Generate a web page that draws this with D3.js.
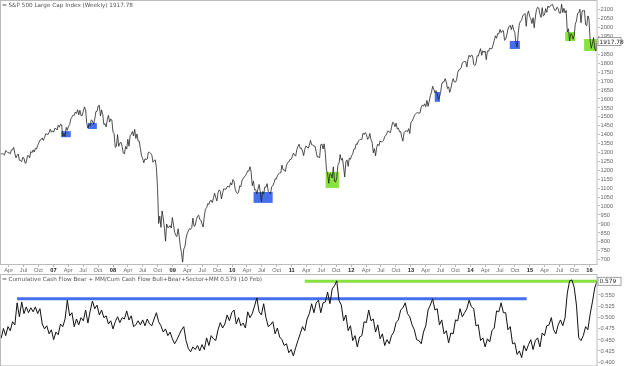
<!DOCTYPE html>
<html>
<head>
<meta charset="utf-8">
<script src="https://cdn.jsdelivr.net/npm/d3@7"></script>
<style>
  body { margin: 0; background: #fff; }
  svg { display: block; font-family: "DejaVu Sans", Verdana, sans-serif; will-change: transform; }
  .axis text { fill: #666; font-size: 5.7px; }
  .axis path, .axis line { stroke: #bbb; shape-rendering: crispEdges; }
  .yr { fill: #222 !important; font-weight: bold; }
</style>
</head>
<body>
<svg id="chart" width="640" height="366"></svg>
<script>
// weekly closes, first point Fri 17 Feb 2006, last point Fri 19 Feb 2016
const firstDate = new Date(2006, 1, 17);
const spx = [
  // 2006
  1289, 1289, 1287, 1282, 1307, 1302, 1295, 1295, 1289, 1311, 1311, 1325, 1291, 1267, 1280, 1288, 1253, 1251, 1245, 1270,
  1265, 1236, 1240, 1278, 1279, 1266, 1302, 1295, 1311, 1299, 1320, 1315, 1336, 1350, 1366, 1368, 1378, 1364, 1380, 1401,
  1400, 1396, 1409, 1427, 1410, 1418,
  // 2007
  1410, 1431, 1431, 1422, 1449, 1438, 1455, 1451, 1387, 1402, 1386, 1437, 1421, 1444, 1453, 1484, 1494, 1506, 1505, 1523,
  1515, 1536, 1507, 1533, 1503, 1503, 1530, 1552, 1534, 1459, 1433, 1453, 1445, 1479, 1474, 1454, 1484, 1525, 1527, 1557,
  1561, 1501, 1535, 1509, 1453, 1458, 1440, 1481, 1504, 1467, 1484, 1478,
  // 2008
  1411, 1401, 1325, 1331, 1396, 1331, 1349, 1353, 1331, 1294, 1288, 1330, 1316, 1370, 1332, 1390, 1398, 1414, 1389, 1426,
  1375, 1400, 1361, 1360, 1318, 1278, 1262, 1239, 1261, 1257, 1260, 1297, 1298, 1292, 1283, 1242, 1252, 1255, 1213, 1099,
  899, 940, 877, 969, 930, 873, 800, 896, 876, 879, 887, 873,
  // 2009
  932, 890, 850, 832, 826, 869, 827, 770, 735, 683, 756, 768, 816, 843, 857, 870, 866, 877, 929, 883,
  887, 919, 940, 946, 921, 918, 896, 879, 941, 979, 987, 1010, 1005, 1026, 1029, 1016, 1042, 1068, 1044, 1025,
  1071, 1087, 1080, 1036, 1069, 1093, 1091, 1091, 1106, 1106, 1102, 1127, 1115,
  // 2010
  1145, 1136, 1092, 1074, 1066, 1075, 1109, 1105, 1139, 1150, 1160, 1167, 1179, 1194, 1192, 1217, 1187, 1111, 1136, 1088,
  1089, 1065, 1092, 1117, 1076, 1022, 1078, 1065, 1103, 1102, 1122, 1079, 1071, 1065, 1105, 1110, 1126, 1149, 1147, 1166,
  1176, 1183, 1183, 1226, 1200, 1200, 1190, 1225, 1240, 1244, 1257, 1258,
  // 2011
  1272, 1293, 1283, 1276, 1311, 1329, 1343, 1320, 1321, 1304, 1279, 1314, 1332, 1329, 1320, 1338, 1364, 1340, 1338, 1333,
  1331, 1300, 1271, 1272, 1268, 1340, 1344, 1316, 1345, 1292, 1199, 1179, 1124, 1177, 1174, 1154, 1216, 1136, 1131, 1155,
  1225, 1238, 1285, 1253, 1264, 1216, 1159, 1244, 1255, 1219, 1265, 1258,
  // 2012
  1278, 1289, 1315, 1316, 1345, 1342, 1362, 1366, 1370, 1370, 1404, 1397, 1408, 1398, 1370, 1378, 1403, 1369, 1353, 1295,
  1318, 1278, 1325, 1343, 1335, 1362, 1355, 1357, 1363, 1386, 1391, 1405, 1418, 1411, 1407, 1438, 1466, 1460, 1441, 1461,
  1428, 1433, 1412, 1414, 1380, 1360, 1409, 1416, 1418, 1413, 1430, 1402,
  // 2013
  1466, 1472, 1486, 1503, 1513, 1518, 1520, 1516, 1518, 1551, 1561, 1556, 1569, 1553, 1588, 1555, 1582, 1614, 1634, 1667,
  1650, 1631, 1643, 1626, 1593, 1606, 1632, 1680, 1692, 1692, 1710, 1691, 1655, 1664, 1633, 1655, 1688, 1710, 1692, 1691,
  1703, 1745, 1759, 1762, 1771, 1798, 1805, 1806, 1805, 1775, 1818, 1841,
  // 2014
  1831, 1842, 1838, 1790, 1783, 1797, 1838, 1836, 1859, 1878, 1841, 1866, 1857, 1865, 1816, 1864, 1863, 1881, 1878, 1878,
  1900, 1924, 1950, 1936, 1963, 1961, 1985, 1968, 1978, 1978, 1925, 1931, 1955, 1988, 2003, 2008, 1985, 2011, 1982, 1968,
  1906, 1886, 1965, 2018, 2032, 2039, 2064, 2068, 2075, 2003, 2071, 2089,
  // 2015
  2058, 2045, 2019, 2051, 1995, 2055, 2097, 2110, 2105, 2071, 2053, 2108, 2061, 2067, 2102, 2081, 2117, 2108, 2116, 2123,
  2126, 2107, 2092, 2094, 2110, 2102, 2077, 2077, 2127, 2080, 2104, 2078, 2092, 1971, 1989, 1921, 1961, 1958, 1931, 1951,
  2015, 2033, 2075, 2079, 2099, 2023, 2089, 2090, 2092, 2012, 2006, 2061, 2044,
  // 2016
  1922, 1880, 1907, 1940, 1880, 1865, 1918
];

// Cumulative Cash Flow Bear + MM / Cum Cash Flow Bull+Bear+Sector+MM, every second week from the same start
const flow = [
  0.452, 0.474, 0.458, 0.478, 0.469, 0.489, 0.482, 0.531, 0.500, 0.533, 0.507, 0.522, 0.509, 0.520, 0.511, 0.522, 0.507, 0.518, 0.484, 0.473,
  0.480, 0.462, 0.471, 0.449, 0.466, 0.460, 0.484, 0.478, 0.495, 0.537, 0.502, 0.509, 0.478, 0.495, 0.482, 0.498, 0.491, 0.515, 0.486, 0.513,
  0.535, 0.518, 0.526, 0.504, 0.515, 0.498, 0.502, 0.484, 0.491, 0.473, 0.489, 0.500, 0.487, 0.498, 0.495, 0.513, 0.493, 0.502, 0.478, 0.482,
  0.491, 0.482, 0.493, 0.480, 0.495, 0.484, 0.480, 0.495, 0.509, 0.489, 0.480, 0.466, 0.473, 0.458, 0.466, 0.451, 0.440, 0.449, 0.460, 0.471,
  0.478, 0.447, 0.429, 0.422, 0.433, 0.427, 0.436, 0.424, 0.438, 0.427, 0.453, 0.436, 0.458, 0.451, 0.447, 0.471, 0.487, 0.475, 0.484, 0.504,
  0.491, 0.509, 0.515, 0.484, 0.498, 0.480, 0.486, 0.475, 0.511, 0.498, 0.507, 0.524, 0.542, 0.511, 0.504, 0.529, 0.498, 0.478, 0.482, 0.489,
  0.462, 0.475, 0.455, 0.449, 0.436, 0.440, 0.420, 0.427, 0.413, 0.431, 0.447, 0.462, 0.478, 0.469, 0.495, 0.507, 0.529, 0.509, 0.531, 0.537,
  0.509, 0.531, 0.533, 0.555, 0.529, 0.562, 0.569, 0.580, 0.536, 0.526, 0.491, 0.504, 0.469, 0.480, 0.447, 0.458, 0.433, 0.455, 0.458, 0.489,
  0.487, 0.515, 0.491, 0.495, 0.466, 0.482, 0.451, 0.462, 0.436, 0.449, 0.440, 0.458, 0.466, 0.487, 0.493, 0.515, 0.520, 0.531, 0.507, 0.500,
  0.482, 0.471, 0.449, 0.447, 0.440, 0.466, 0.480, 0.515, 0.526, 0.540, 0.515, 0.518, 0.482, 0.493, 0.462, 0.469, 0.442, 0.464, 0.462, 0.493,
  0.491, 0.518, 0.500, 0.509, 0.518, 0.537, 0.522, 0.518, 0.480, 0.482, 0.447, 0.453, 0.433, 0.451, 0.444, 0.469, 0.475, 0.513, 0.511, 0.531,
  0.509, 0.509, 0.471, 0.478, 0.440, 0.442, 0.416, 0.424, 0.409, 0.436, 0.424, 0.438, 0.449, 0.427, 0.447, 0.453, 0.433, 0.464, 0.458, 0.480,
  0.482, 0.498, 0.471, 0.462, 0.482, 0.493, 0.480, 0.498, 0.553, 0.580, 0.582, 0.566, 0.526, 0.453, 0.447, 0.458, 0.478, 0.471, 0.506, 0.533,
  0.564, 0.579
];

// highlighted zones on the price panel: [start, end, low, high]
const blueZones = [
  ['2007-02-20', '2007-04-20', 1382, 1416],
  ['2007-08-03', '2007-09-27', 1428, 1462],
  ['2010-05-15', '2010-09-09', 1014, 1075],
  ['2013-05-30', '2013-07-01', 1580, 1635],
  ['2014-09-02', '2014-11-03', 1876, 1921]
];
const greenZones = [
  ['2011-07-31', '2011-10-20', 1098, 1187],
  ['2015-08-08', '2015-10-08', 1921, 1971],
  ['2015-12-02', '2016-02-19', 1865, 1932]
];

// reference levels on the flow panel: [start, end, level]
const blueLevel = ['2006-05-25', '2014-12-15', 0.540];
const greenLevel = ['2011-03-25', '2016-02-19', 0.579];

const priceTicks = d3.range(700, 2101, 50).filter(d => d !== 1900);
const flowTicks = d3.range(0.4, 0.5501, 0.025);
const lastPrice = 1917.78;
const lastFlow = 0.579;

const plotRight = 597;
const blue = '#4470f0';
const green = '#86e23c';

const spxDates = spx.map((d, i) => d3.timeDay.offset(firstDate, 7 * i));
const flowDates = flow.map((d, i) => d3.timeDay.offset(firstDate, 14 * i));
const parse = d3.timeParse('%Y-%m-%d');

const svg = d3.select('#chart');

const x = d3.scaleTime()
  .domain([new Date(2006, 1, 10), new Date(2016, 1, 19)])
  .range([0, plotRight]);

const yTop = d3.scaleLinear().domain([700, 2100]).range([259, 9]);
const yBot = d3.scaleLinear().domain([0.4, 0.55]).range([361.7, 294.3]);

// panel frames + clips
const panels = [
  { id: 'top', y0: 0.5, y1: 264.5 },
  { id: 'bot', y0: 274.5, y1: 366 }
];
const defs = svg.append('defs');
panels.forEach(p => {
  defs.append('clipPath').attr('id', 'clip-' + p.id)
    .append('rect')
    .attr('x', 0).attr('y', p.y0)
    .attr('width', plotRight).attr('height', p.y1 - p.y0);
});

// price panel
const pricePanel = svg.append('g').attr('clip-path', 'url(#clip-top)');

const zone = (sel, data, color) => sel.selectAll(null)
  .data(data)
  .enter()
  .append('rect')
  .attr('x', d => x(parse(d[0])))
  .attr('width', d => x(parse(d[1])) - x(parse(d[0])))
  .attr('y', d => yTop(d[3]))
  .attr('height', d => yTop(d[2]) - yTop(d[3]))
  .attr('fill', color);

zone(pricePanel, blueZones, blue);
zone(pricePanel, greenZones, green);

const priceLine = d3.line()
  .x((d, i) => x(spxDates[i]))
  .y(d => yTop(d));

pricePanel.append('path')
  .datum(spx)
  .attr('d', priceLine)
  .attr('fill', 'none')
  .attr('stroke', '#222')
  .attr('stroke-width', 0.8);

// flow panel
const flowPanel = svg.append('g').attr('clip-path', 'url(#clip-bot)');

[[blueLevel, blue], [greenLevel, green]].forEach(([lv, color]) => {
  flowPanel.append('line')
    .attr('x1', x(parse(lv[0])))
    .attr('x2', x(parse(lv[1])))
    .attr('y1', yBot(lv[2]))
    .attr('y2', yBot(lv[2]))
    .attr('stroke', color)
    .attr('stroke-width', 3);
});

const flowLine = d3.line()
  .x((d, i) => x(flowDates[i]))
  .y(d => yBot(d));

flowPanel.append('path')
  .datum(flow)
  .attr('d', flowLine)
  .attr('fill', 'none')
  .attr('stroke', '#111')
  .attr('stroke-width', 1);

// frames
panels.forEach(p => {
  svg.append('rect')
    .attr('x', 0.5).attr('y', p.y0)
    .attr('width', plotRight - 0.5).attr('height', p.y1 - p.y0)
    .attr('fill', 'none')
    .attr('stroke', '#bbb')
    .attr('stroke-width', 1);
});

// x axis between panels
const xAxis = d3.axisBottom(x)
  .ticks(d3.timeMonth.every(3))
  .tickSize(2)
  .tickPadding(1)
  .tickFormat(d => d.getMonth() === 0 ? d3.timeFormat('%y')(d) : d3.timeFormat('%b')(d));

svg.append('g')
  .attr('class', 'axis')
  .attr('transform', 'translate(0,264.5)')
  .call(xAxis)
  .call(g => g.select('.domain').remove())
  .selectAll('.tick text')
  .classed('yr', d => d.getMonth() === 0);

// right axes
const yAxisTop = d3.axisRight(yTop).tickValues(priceTicks).tickSize(2).tickPadding(1)
  .tickFormat(d3.format('d'));
svg.append('g')
  .attr('class', 'axis')
  .attr('transform', `translate(${plotRight + 0.5},0)`)
  .call(yAxisTop)
  .call(g => g.select('.domain').remove());

const yAxisBot = d3.axisRight(yBot).tickValues(flowTicks).tickSize(2).tickPadding(1)
  .tickFormat(d3.format('.3f'));
svg.append('g')
  .attr('class', 'axis')
  .attr('transform', `translate(${plotRight + 0.5},0)`)
  .call(yAxisBot)
  .call(g => g.select('.domain').remove());

// last value flags
const flag = (yPos, label) => {
  const g = svg.append('g').attr('transform', `translate(${plotRight + 1},${yPos})`);
  g.append('rect')
    .attr('x', 0).attr('y', -4)
    .attr('width', 23).attr('height', 8)
    .attr('fill', '#fff')
    .attr('stroke', '#777')
    .attr('stroke-width', 0.7);
  g.append('text')
    .attr('x', 1.5).attr('y', 2)
    .attr('font-size', '5.9px')
    .attr('fill', '#222')
    .text(label);
};
flag(yTop(lastPrice), lastPrice.toFixed(2));
flag(yBot(lastFlow), lastFlow.toFixed(3));

// panel titles
const title = (yPos, label) => {
  svg.append('line')
    .attr('x1', 2.5).attr('x2', 6.5)
    .attr('y1', yPos - 2).attr('y2', yPos - 2)
    .attr('stroke', '#555')
    .attr('stroke-width', 1);
  svg.append('text')
    .attr('x', 8.5).attr('y', yPos)
    .attr('font-size', '5.7px')
    .attr('fill', '#555')
    .text(label);
};
title(7, `S&P 500 Large Cap Index (Weekly) ${lastPrice}`);
title(281, `Cumulative Cash Flow Bear + MM/Cum Cash Flow Bull+Bear+Sector+MM ${lastFlow} (10 Feb)`);
</script>
</body>
</html>
